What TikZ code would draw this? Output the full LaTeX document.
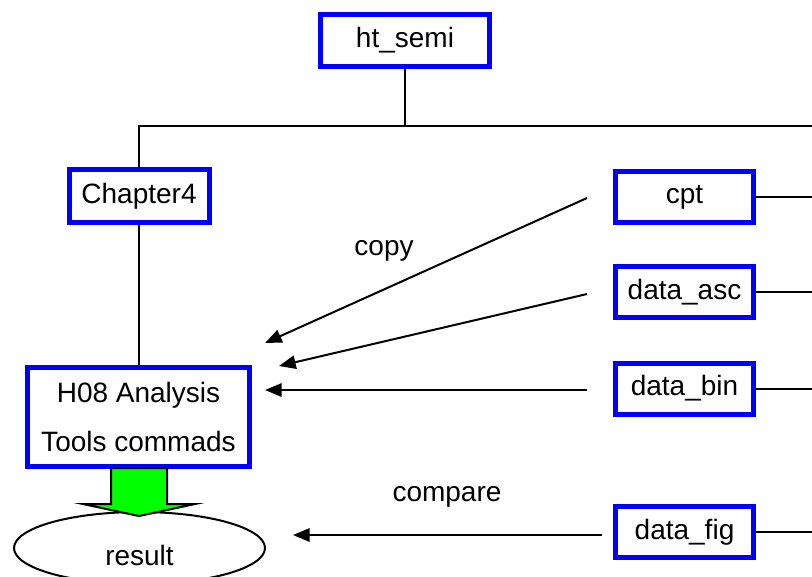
\documentclass[tikz,border=0pt]{standalone}
\usepackage{fontspec}
\setmainfont{Liberation Sans}
\usetikzlibrary{arrows.meta,shapes.geometric}
\tikzset{
  box/.style={draw=blue, line width=3.75pt, fill=white, inner sep=0pt, align=center},
  smallbox/.style={box, minimum width=103.5pt, minimum height=38.25pt},
  link/.style={draw=black, line width=1.5pt},
  arr/.style={link, -{Triangle[length=12.5pt,width=10pt]}},
  lbl/.style={inner sep=0pt},
}
\begin{document}
\begin{tikzpicture}[x=0.75pt,y=-0.75pt,font=\fontsize{21}{36.75}\selectfont]
\useasboundingbox (0,0) rectangle (812,576);
\clip (0,0) rectangle (812,576);
% nodes
\node[box, minimum width=126.75pt, minimum height=39pt] (ht) at (405,40.5) {ht\_semi};
\node[box, minimum width=105pt, minimum height=39.75pt] (ch) at (139,196) {Chapter4};
\node[box, minimum width=166.5pt, minimum height=74.25pt] (h08) at (138.5,417) {H08 Analysis\\Tools commads};
\node[smallbox] (cpt) at (684.5,197) {cpt};
\node[smallbox] (asc) at (684.5,292) {data\_asc};
\node[smallbox] (bin) at (684.5,388.5) {data\_bin};
\node[smallbox] (fig) at (684.5,532) {data\_fig};
\node[ellipse, draw, line width=1.5pt, minimum width=188.25pt, minimum height=54pt, inner sep=0pt] (res) at (139.5,548) {};
\node[lbl] (restxt) at (139.5,555) {result};
\node[lbl] (copy) at (384,251) {copy};
\node[lbl] (cmp) at (447,497) {compare};
% tree lines
\coordinate (bus) at (405,126);
\coordinate (busR) at (830,126);
\draw[link] (ht.south) -- (bus);
\draw[link] (ch.north) |- (busR);
\draw[link] (ch.south) -- (ch.south |- h08.north);
\draw[link] (cpt.east) -- ++(80,0);
\draw[link] (asc.east) -- ++(80,0);
\draw[link] (bin.east) -- ++(80,0);
\draw[link] (fig.east) -- ++(80,0);
% copy arrows
\coordinate (c1s) at (587,198);
\coordinate (c1e) at (265,343);
\coordinate (c2s) at (587,294);
\coordinate (c2e) at (279,366);
\coordinate (c3s) at (587,390);
\coordinate (c3e) at (265,390);
\coordinate (c4s) at (602,535);
\coordinate (c4e) at (293,535);
\draw[arr] (c1s) -- (c1e);
\draw[arr] (c2s) -- (c2e);
\draw[arr] (c3s) -- (c3e);
\draw[arr] (c4s) -- (c4e);
% green block arrow
\draw[line width=1.5pt, fill={rgb,255:red,0;green,255;blue,0}, line join=miter]
  (111,468) -- (167,468) -- (167,504) -- (195,504) -- (139,516) -- (83,504) -- (111,504) -- cycle;
\end{tikzpicture}
\end{document}
